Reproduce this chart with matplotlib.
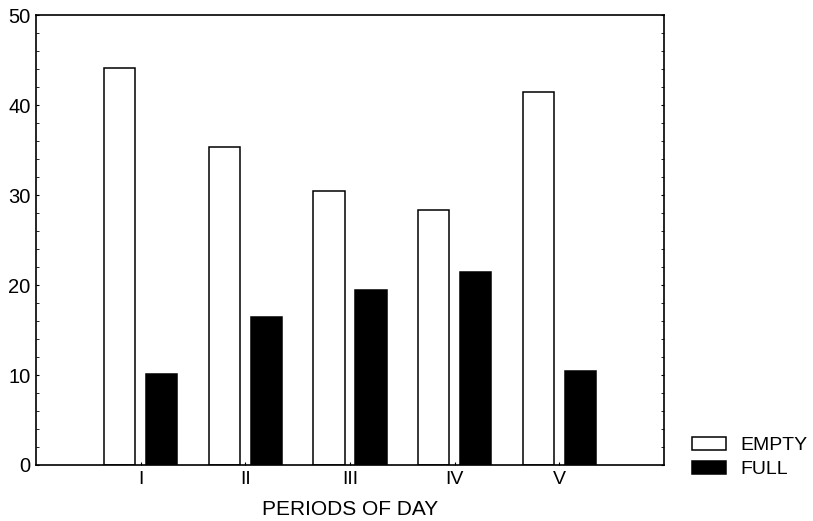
"""
Empty vs full counts per period of day - grouped bar chart
"""
import numpy as np
import matplotlib
matplotlib.use("Agg")
import matplotlib.pyplot as plt
from matplotlib.ticker import MultipleLocator

plt.rcParams['font.family'] = ['Liberation Sans', 'DejaVu Sans']

periods = ['I', 'II', 'III', 'IV', 'V']
empty = [44.1, 35.3, 30.4, 28.3, 41.4]
full = [10.1, 16.4, 19.4, 21.4, 10.4]

fig = plt.figure(figsize=(8.13, 5.21), dpi=100)
ax = fig.add_axes([0.0443, 0.1075, 0.7724, 0.8635])

x = np.arange(1, len(periods) + 1)
w = 0.3
ax.bar(x - 0.2, empty, w, facecolor='white', edgecolor='black', linewidth=1.1, label='EMPTY')
ax.bar(x + 0.2, full, w, facecolor='black', edgecolor='black', linewidth=1.1, label='FULL')

ax.set_xlim(0, 6)
ax.set_ylim(0, 50)
ax.set_xticks(x)
ax.set_xticklabels(periods)
ax.yaxis.set_major_locator(MultipleLocator(10))
ax.yaxis.set_minor_locator(MultipleLocator(2))
ax.tick_params(axis='y', which='both', direction='in', right=True, labelsize=14.5, length=2.5, pad=4)
ax.tick_params(axis='x', direction='in', length=2.5, labelsize=14, pad=4)
for s in ax.spines.values():
    s.set_linewidth(1.2)

ax.set_xlabel('PERIODS OF DAY', fontsize=15, labelpad=9)

ax.legend(loc='upper left', bbox_to_anchor=(1.045, 0.063), frameon=False,
          borderpad=0, borderaxespad=0,
          fontsize=14, handlelength=1.75, handleheight=0.65, labelspacing=0.35,
          handletextpad=0.75)

plt.savefig('out.png', dpi=100)
